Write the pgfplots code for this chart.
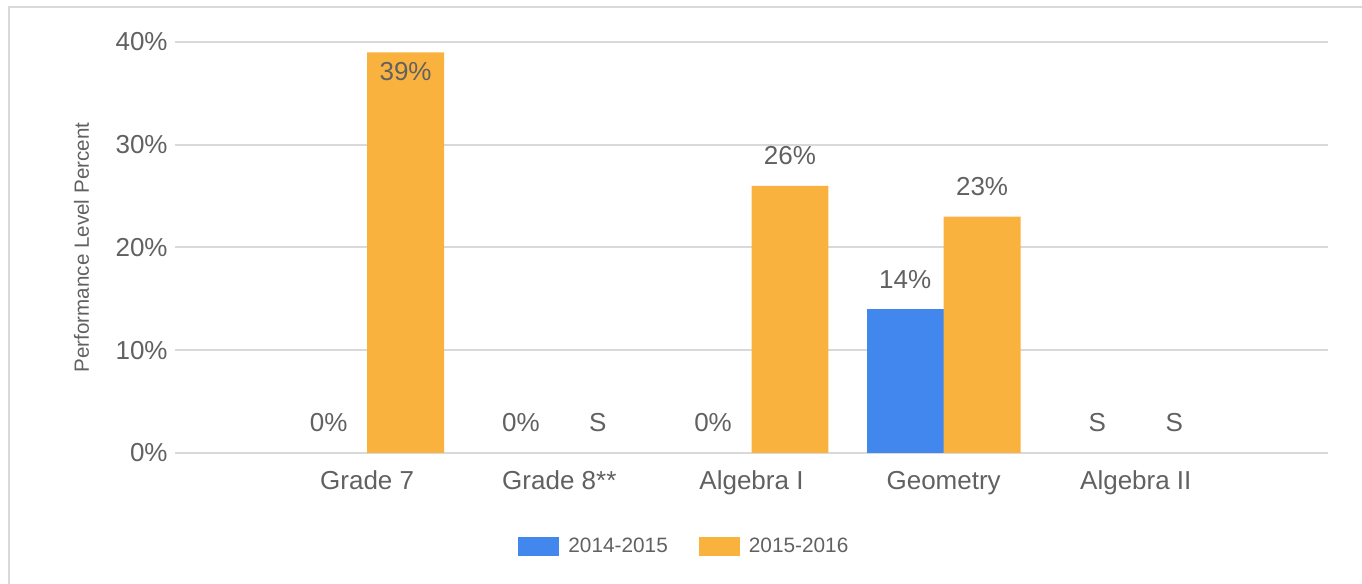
\documentclass[border=0pt]{standalone}
\usepackage{pgfplots}
\pgfplotsset{compat=1.18}
\usepackage{fontspec}
\setmainfont{Liberation Sans}
\definecolor{bblue}{HTML}{4287ED}
\definecolor{borange}{HTML}{FAB23F}
\definecolor{tgray}{HTML}{616161}
\definecolor{ggray}{HTML}{D9D9D9}
\tikzset{lbl/.style={font=\fontsize{13pt}{15pt}\selectfont, text=tgray, anchor=base, inner sep=0pt}}
\begin{document}
\begin{tikzpicture}
\path[use as bounding box] (0,0) rectangle (681pt,292pt);
\draw[ggray, line width=1.25pt] (4.5pt,0) -- (4.5pt,288.5pt) -- (681pt,288.5pt);
\begin{axis}[
  at={(87.5pt,65.5pt)}, anchor=south west,
  scale only axis, width=576.5pt, height=205.5pt,
  xmin=-1, xmax=5, ymin=0, ymax=40,
  ybar=0pt, bar width=0.4,
  xtick={0,1,2,3,4},
  xticklabels={Grade 7, Grade 8**, Algebra I, Geometry, Algebra II},
  ytick={0,10,20,30,40},
  yticklabels={0\%,10\%,20\%,30\%,40\%},
  ymajorgrids, grid style={ggray, line width=1pt},
  axis line style={draw=none}, major tick length=0pt,
  tick label style={font=\fontsize{13pt}{15pt}\selectfont, text=tgray, inner sep=0pt},
  xticklabel style={anchor=base, yshift=-18.5pt},
  yticklabel style={anchor=base east, xshift=-3.5pt, yshift=-4.4pt},
  clip=false,
  legend image code/.code={\fill[#1] (0pt,-4.75pt) rectangle (20.5pt,4.75pt);},
  legend style={at={(0.2975,-0.2275)}, anchor=west, draw=none, fill=none,
    legend columns=-1, inner sep=0pt,
    nodes={inner sep=0pt, text=tgray, font=\fontsize{10.4pt}{12pt}\selectfont},
    /tikz/every odd column/.append style={column sep=4.5pt},
    /tikz/every even column/.append style={column sep=15.5pt}},
]
% 2014-2015: Grade 7 = 0, Grade 8 = 0, Algebra I = 0 (zero-height bars not drawn), Geometry = 14
\addplot[fill=bblue, draw=none] coordinates {(3,14)};
\addplot[fill=borange, draw=none] coordinates {(0,39) (2,26) (3,23)};
\legend{2014-2015, 2015-2016}
\node[lbl, yshift=10.5pt] at (axis cs:-0.2,0) {0\%};
\node[lbl, yshift=-14.3pt] at (axis cs:0.2,39) {39\%};
\node[lbl, yshift=10.5pt] at (axis cs:0.8,0) {0\%};
\node[lbl, yshift=10.5pt] at (axis cs:1.2,0) {S};
\node[lbl, yshift=10.5pt] at (axis cs:1.8,0) {0\%};
\node[lbl, yshift=10.5pt] at (axis cs:2.2,26) {26\%};
\node[lbl, yshift=10.5pt] at (axis cs:2.8,14) {14\%};
\node[lbl, yshift=10.5pt] at (axis cs:3.2,23) {23\%};
\node[lbl, yshift=10.5pt] at (axis cs:3.8,0) {S};
\node[lbl, yshift=10.5pt] at (axis cs:4.2,0) {S};
\end{axis}
\node[rotate=90, anchor=base, inner sep=0pt, font=\fontsize{10.3pt}{12pt}\selectfont, text=tgray] at (44.5pt,168.25pt) {Performance Level Percent};
\end{tikzpicture}
\end{document}
